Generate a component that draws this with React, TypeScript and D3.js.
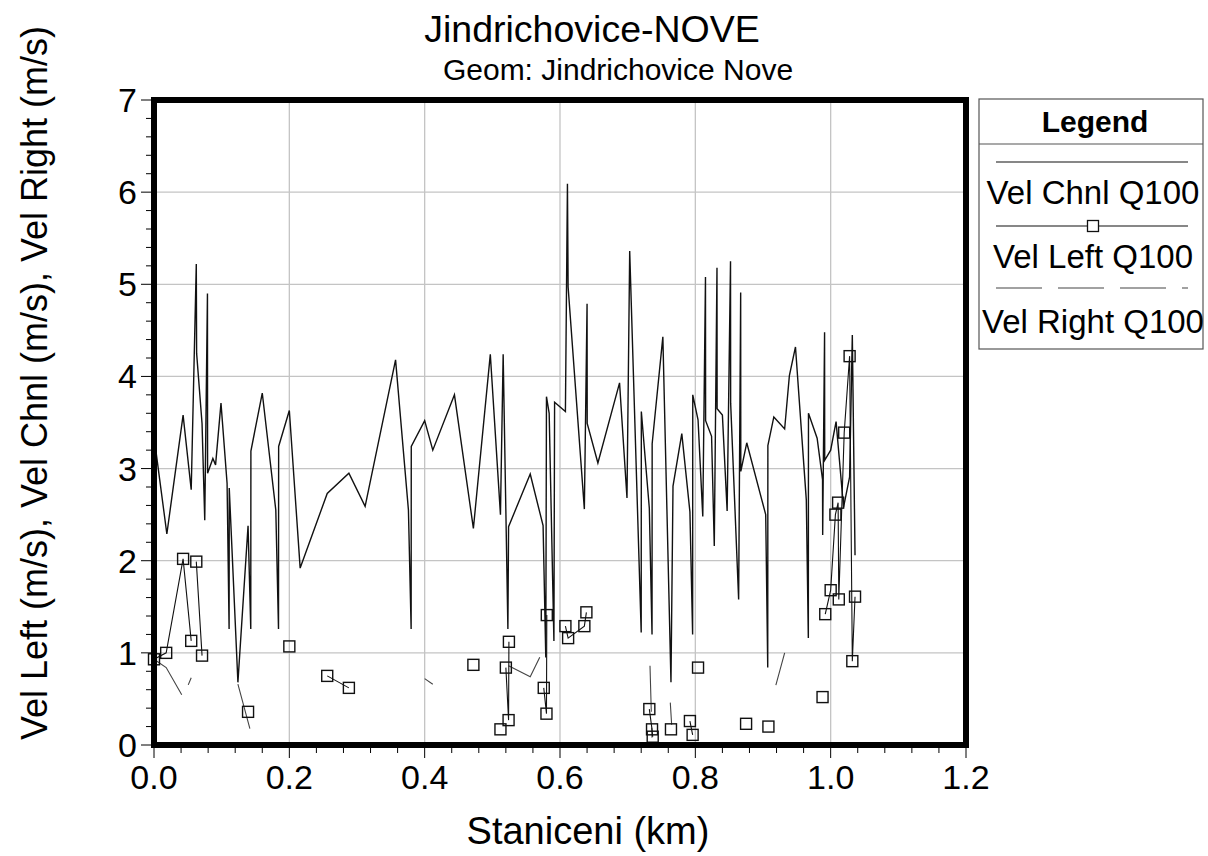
import React from "react";
import * as d3 from "d3";

// ---- data ----
const chnlStation = [
  0.0, 0.019, 0.043, 0.055, 0.0625, 0.063, 0.071, 0.075, 0.079, 0.0792, 0.087, 0.091, 0.099, 0.108, 0.111, 0.1112,
  0.124, 0.139, 0.143, 0.1432, 0.16, 0.18, 0.184, 0.1842, 0.2, 0.216, 0.256, 0.288, 0.312, 0.357, 0.376, 0.38,
  0.3802, 0.4, 0.412, 0.444, 0.472, 0.497, 0.512, 0.516, 0.523, 0.524, 0.556, 0.575, 0.579, 0.58, 0.584, 0.591,
  0.592, 0.608, 0.611, 0.612, 0.636, 0.64, 0.6402, 0.656, 0.688, 0.699, 0.703, 0.72, 0.7202, 0.732, 0.736, 0.7362,
  0.752, 0.764, 0.767, 0.78, 0.792, 0.796, 0.7962, 0.804, 0.811, 0.815, 0.8152, 0.824, 0.828, 0.832, 0.8322, 0.84,
  0.847, 0.852, 0.8522, 0.864, 0.867, 0.8672, 0.876, 0.904, 0.907, 0.9072, 0.916, 0.932, 0.939, 0.948, 0.964, 0.967,
  0.9672, 0.98, 0.988, 0.9882, 0.991, 0.9912, 1.0, 1.008, 1.019, 1.028, 1.032, 1.036,
];
const chnlVel = [
  3.35, 2.29, 3.58, 2.77, 5.22, 4.25, 3.49, 2.44, 4.9, 2.95, 3.11, 3.04, 3.71, 2.84, 1.26, 2.79,
  0.68, 2.38, 1.26, 3.19, 3.82, 2.55, 1.26, 3.24, 3.63, 1.92, 2.73, 2.95, 2.59, 4.18, 2.55, 1.26,
  3.24, 3.52, 3.2, 3.8, 2.35, 4.24, 2.5, 4.24, 1.26, 2.37, 2.94, 2.38, 0.95, 3.78, 3.6, 1.13,
  3.72, 3.62, 6.09, 4.97, 2.56, 4.79, 3.49, 3.06, 3.93, 2.68, 5.36, 1.22, 3.62, 2.57, 1.2, 3.27,
  4.43, 0.68, 2.81, 3.38, 2.53, 1.2, 3.8, 3.53, 2.48, 5.08, 3.52, 3.35, 2.16, 5.18, 3.65, 3.58,
  2.54, 5.25, 3.71, 1.58, 4.91, 2.97, 3.28, 2.5, 0.84, 3.25, 3.56, 3.43, 4.01, 4.32, 2.66, 1.16,
  3.6, 3.33, 2.88, 2.28, 4.48, 3.09, 3.2, 3.51, 2.58, 2.91, 4.45, 2.06,
];

// null marks a break in the line (no left overbank flow)
const leftStation = [
  0.0, 0.018, 0.043, 0.055, null, 0.0625, 0.071, null, 0.139, null, 0.2, null, 0.256, 0.288, null, 0.472, null,
  0.512, null, 0.52, 0.524, 0.5245, null, 0.576, 0.58, 0.5805, null, 0.608, 0.612, 0.636, 0.639, null,
  0.732, 0.736, 0.737, null, 0.764, null, 0.792, 0.796, null, 0.804, null, 0.875, null, 0.908, null, 0.988, null,
  0.992, 1.0, 1.007, 1.011, 1.012, 1.02, 1.028, 1.032, 1.036,
];
const leftVel = [
  0.93, 1.0, 2.02, 1.13, null, 1.99, 0.97, null, 0.36, null, 1.07, null, 0.75, 0.62, null, 0.87, null,
  0.17, null, 0.84, 0.27, 1.12, null, 0.62, 0.34, 1.41, null, 1.29, 1.16, 1.29, 1.44, null,
  0.39, 0.17, 0.09, null, 0.17, null, 0.26, 0.11, null, 0.84, null, 0.23, null, 0.2, null, 0.52, null,
  1.42, 1.68, 2.5, 2.63, 1.58, 3.39, 4.22, 0.91, 1.61,
];

const rightStation = [
  0.0, 0.018, 0.043, 0.055, null, 0.124, 0.142, null, 0.4, 0.412, null, 0.524, 0.556, 0.576, null,
  0.733, 0.736, null, 0.763, 0.765, null, 0.919, 0.932,
];
const rightVel = [
  0.93, 0.84, 0.52, 0.73, null, 0.66, 0.17, null, 0.72, 0.66, null, 0.86, 0.74, 1.04, null,
  0.86, 0.08, null, 0.46, 0.22, null, 0.65, 1.0,
];

const xTicks = [0, 0.2, 0.4, 0.6, 0.8, 1.0, 1.2];
const yTicks = [0, 1, 2, 3, 4, 5, 6, 7];
const legendLabels = ["Vel Chnl Q100", "Vel Left Q100", "Vel Right Q100"];
const titleText = "Jindrichovice-NOVE";
const subtitleText = "Geom: Jindrichovice Nove";
const xLabel = "Staniceni (km)";
const yLabel = "Vel Left (m/s), Vel Chnl (m/s), Vel Right (m/s)";

type Pt = { x: number | null; y: number | null };
const zip = (xs: (number | null)[], ys: (number | null)[]): Pt[] => xs.map((x, i) => ({ x, y: ys[i] }));

export default function App() {
  const W = 1208, H = 856;
  const L = 154, R = 966, T = 100, B = 745;
  const x = d3.scaleLinear().domain([0, 1.2]).range([L, R]);
  const y = d3.scaleLinear().domain([0, 7]).range([B, T]);
  const font = "'Liberation Sans', Arial, sans-serif";

  const line = d3
    .line<Pt>()
    .defined((d) => d.x !== null && d.y !== null)
    .x((d) => x(d.x as number))
    .y((d) => y(d.y as number));

  const chnl = zip(chnlStation, chnlVel);
  const left = zip(leftStation, leftVel);
  const right = zip(rightStation, rightVel);

  const xMinor = d3.range(0, 1.2001, 0.04);
  const yMinor = d3.range(0, 7.001, 0.2);

  const sq = 11;

  return (
    <svg width={W} height={H} style={{ position: "absolute", left: 0, top: 0, background: "#fff" }} fontFamily={font}>
      <rect x={0} y={0} width={W} height={H} fill="#fff" />
      <text x={592} y={42} textAnchor="middle" fontSize={37.5} fill="#000">{titleText}</text>
      <text x={618} y={80} textAnchor="middle" fontSize={30} fill="#000">{subtitleText}</text>

      {/* grid */}
      {xTicks.slice(1, -1).map((t) => (
        <line key={"gx" + t} x1={x(t)} x2={x(t)} y1={T} y2={B} stroke="#c4c4c4" strokeWidth={1.3} />
      ))}
      {yTicks.slice(1, -1).map((t) => (
        <line key={"gy" + t} x1={L} x2={R} y1={y(t)} y2={y(t)} stroke="#c4c4c4" strokeWidth={1.3} />
      ))}

      {/* series */}
      <path d={line(chnl) || ""} fill="none" stroke="#111" strokeWidth={1.4} />
      <path d={line(right) || ""} fill="none" stroke="#444" strokeWidth={1.1} strokeDasharray="46,16" />
      <path d={line(left) || ""} fill="none" stroke="#111" strokeWidth={1.1} />
      {left.filter((d) => d.x !== null && d.y !== null).map((d, i) => (
        <rect key={"sq" + i} x={x(d.x as number) - sq / 2} y={y(d.y as number) - sq / 2} width={sq} height={sq}
          fill="none" stroke="#111" strokeWidth={1.4} />
      ))}

      {/* frame */}
      <rect x={L} y={T} width={R - L} height={B - T} fill="none" stroke="#000" strokeWidth={6} />

      {/* ticks */}
      {xMinor.map((t, i) => (
        <line key={"xt" + i} x1={x(t)} x2={x(t)} y1={B} y2={B + (i % 5 === 0 ? 13 : 8)} stroke="#000" strokeWidth={1} />
      ))}
      {yMinor.map((t, i) => (
        <line key={"yt" + i} x1={L} x2={L - (i % 5 === 0 ? 13 : 8)} y1={y(t)} y2={y(t)} stroke="#000" strokeWidth={1} />
      ))}
      {xTicks.map((t) => (
        <text key={"xl" + t} x={x(t)} y={789} textAnchor="middle" fontSize={34}>{t.toFixed(1)}</text>
      ))}
      {yTicks.map((t) => (
        <text key={"yl" + t} x={137} y={y(t) + 12} textAnchor="end" fontSize={34}>{t}</text>
      ))}
      <text x={588} y={844} textAnchor="middle" fontSize={38}>{xLabel}</text>
      <text transform={`translate(47,${383}) rotate(-90)`} textAnchor="middle" fontSize={36}>{yLabel}</text>

      {/* legend */}
      <rect x={979} y={99} width={224} height={250} fill="#fff" stroke="#555" strokeWidth={1.2} />
      <line x1={979} x2={1203} y1={144} y2={144} stroke="#555" strokeWidth={1.2} />
      <text x={1095} y={132} textAnchor="middle" fontSize={30} fontWeight="bold">Legend</text>
      <line x1={996} x2={1188} y1={162} y2={162} stroke="#111" strokeWidth={1.2} />
      <text x={1093} y={204} textAnchor="middle" fontSize={33}>{legendLabels[0]}</text>
      <line x1={996} x2={1188} y1={226} y2={226} stroke="#111" strokeWidth={1.1} />
      <rect x={1093 - sq / 2} y={226 - sq / 2} width={sq} height={sq} fill="#fff" stroke="#111" strokeWidth={1.3} />
      <text x={1093} y={268} textAnchor="middle" fontSize={33}>{legendLabels[1]}</text>
      <line x1={996} x2={1188} y1={288} y2={288} stroke="#444" strokeWidth={1.1} strokeDasharray="46,16" />
      <text x={1093} y={333} textAnchor="middle" fontSize={33}>{legendLabels[2]}</text>
    </svg>
  );
}
